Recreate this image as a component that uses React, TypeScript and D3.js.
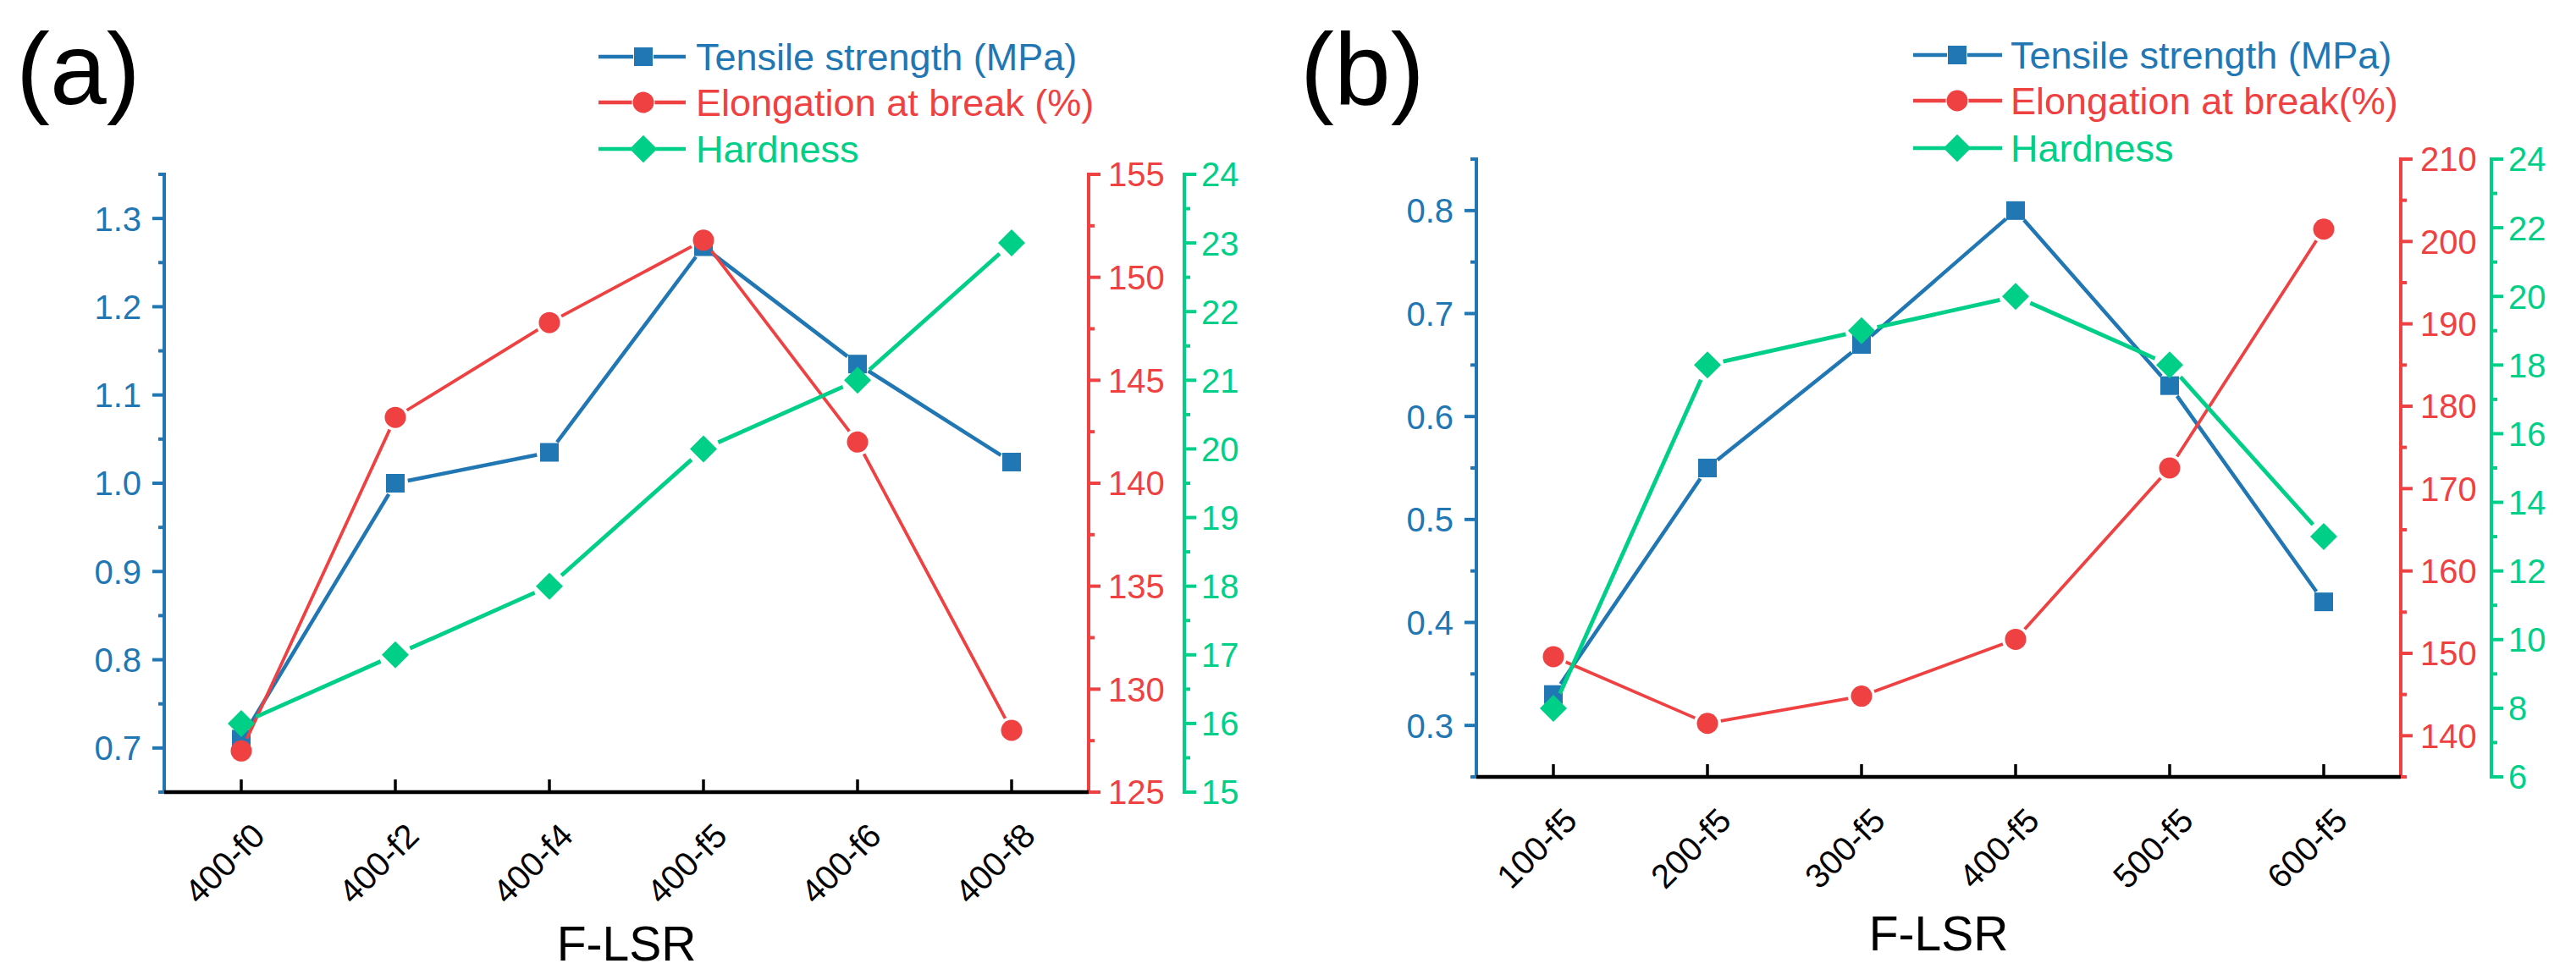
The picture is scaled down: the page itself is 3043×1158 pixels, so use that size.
import React from "react";
import * as d3 from "d3";

// ---------- data ----------
const categoriesA = ["400-f0", "400-f2", "400-f4", "400-f5", "400-f6", "400-f8"];
const tensileA = [0.71, 1.0, 1.035, 1.268, 1.135, 1.024];
const elongationA = [127.0, 143.2, 147.8, 151.8, 142.0, 128.0];
const hardnessA = [16, 17, 18, 20, 21, 23];

const categoriesB = ["100-f5", "200-f5", "300-f5", "400-f5", "500-f5", "600-f5"];
const tensileB = [0.33, 0.55, 0.67, 0.8, 0.63, 0.42];
const elongationB = [149.6, 141.5, 144.8, 151.7, 172.5, 201.5];
const hardnessB = [8, 18, 19, 20, 18, 13];

// axis domains and ticks
const leftDomainA = [0.65, 1.35];
const leftTicksA = [0.7, 0.8, 0.9, 1.0, 1.1, 1.2, 1.3];
const leftMinorA = [0.65, 0.75, 0.85, 0.95, 1.05, 1.15, 1.25, 1.35];
const redDomainA = [125, 155];
const redTicksA = [125, 130, 135, 140, 145, 150, 155];
const redMinorA = [127.5, 132.5, 137.5, 142.5, 147.5, 152.5];
const greenDomainA = [15, 24];
const greenTicksA = [15, 16, 17, 18, 19, 20, 21, 22, 23, 24];
const greenMinorA = [15.5, 16.5, 17.5, 18.5, 19.5, 20.5, 21.5, 22.5, 23.5];

const leftDomainB = [0.25, 0.85];
const leftTicksB = [0.3, 0.4, 0.5, 0.6, 0.7, 0.8];
const leftMinorB = [0.25, 0.35, 0.45, 0.55, 0.65, 0.75, 0.85];
const redDomainB = [135, 210];
const redTicksB = [140, 150, 160, 170, 180, 190, 200, 210];
const redMinorB = [135, 145, 155, 165, 175, 185, 195, 205];
const greenDomainB = [6, 24];
const greenTicksB = [6, 8, 10, 12, 14, 16, 18, 20, 22, 24];
const greenMinorB = [7, 9, 11, 13, 15, 17, 19, 21, 23];

const legendA = ["Tensile strength (MPa)", "Elongation at break (%)", "Hardness"];
const legendB = ["Tensile strength (MPa)", "Elongation at break(%)", "Hardness"];

// ---------- style ----------
const BLUE = "#2177B4";
const RED = "#EF4142";
const GREEN = "#00CF88";
const FONT = "'Liberation Sans', Arial, Helvetica, sans-serif";
const TICK_FS = 40;

type Marker = "square" | "circle" | "diamond";

function markerPath(kind: Marker, x: number, y: number): string {
  if (kind === "square") {
    const h = 11;
    return `M${x - h},${y - h}h${2 * h}v${2 * h}h${-2 * h}Z`;
  }
  if (kind === "diamond") {
    const h = 16;
    return `M${x},${y - h}L${x + h},${y}L${x},${y + h}L${x - h},${y}Z`;
  }
  const r = 12.5;
  return `M${x - r},${y}a${r},${r} 0 1,0 ${2 * r},0a${r},${r} 0 1,0 ${-2 * r},0Z`;
}

const markerGap: Record<Marker, number> = { square: 15, circle: 16, diamond: 19 };

function Series({
  pts,
  color,
  kind,
  width,
}: {
  pts: [number, number][];
  color: string;
  kind: Marker;
  width: number;
}) {
  const g = markerGap[kind];
  const segs: string[] = [];
  for (let i = 0; i < pts.length - 1; i++) {
    const [x1, y1] = pts[i];
    const [x2, y2] = pts[i + 1];
    const dx = x2 - x1;
    const dy = y2 - y1;
    const L = Math.hypot(dx, dy);
    if (L <= 2 * g) continue;
    const ux = dx / L;
    const uy = dy / L;
    segs.push(`M${x1 + ux * g},${y1 + uy * g}L${x2 - ux * g},${y2 - uy * g}`);
  }
  return (
    <g>
      <path d={segs.join("")} stroke={color} strokeWidth={width} fill="none" strokeLinecap="butt" />
      {pts.map(([x, y], i) => (
        <path key={i} d={markerPath(kind, x, y)} fill={color} />
      ))}
    </g>
  );
}

function YAxis({
  x,
  scale,
  ticks,
  minor,
  color,
  side,
  fmt,
  labelOff,
}: {
  x: number;
  scale: d3.ScaleLinear<number, number>;
  ticks: number[];
  minor: number[];
  color: string;
  side: "left" | "right";
  fmt: (v: number) => string;
  labelOff: number;
}) {
  const [r0, r1] = scale.range();
  const s = side === "left" ? -1 : 1;
  return (
    <g>
      <line x1={x} x2={x} y1={r0 + 2} y2={r1 - 2} stroke={color} strokeWidth={4} />
      {ticks.map((t) => (
        <line key={"M" + t} x1={x} x2={x + s * 14} y1={scale(t)} y2={scale(t)} stroke={color} strokeWidth={4} />
      ))}
      {minor.map((t) => (
        <line key={"m" + t} x1={x} x2={x + s * 7} y1={scale(t)} y2={scale(t)} stroke={color} strokeWidth={4} />
      ))}
      {ticks.map((t) => (
        <text
          key={"t" + t}
          x={x + s * labelOff}
          y={scale(t)}
          dy="0.36em"
          fill={color}
          fontSize={TICK_FS}
          fontFamily={FONT}
          textAnchor={side === "left" ? "end" : "start"}
        >
          {fmt(t)}
        </text>
      ))}
    </g>
  );
}

type PanelLayout = {
  left: number;
  right: number;
  top: number;
  bottom: number;
  greenX: number;
  tagX: number;
  legLine0: number;
  legLine1: number;
  legMarker: number;
  legText: number;
  legRows: number[];
  titleBase: number;
};

function Panel({
  tag,
  layout,
  categories,
  tensile,
  elongation,
  hardness,
  leftDomain,
  leftTicks,
  leftMinor,
  redDomain,
  redTicks,
  redMinor,
  greenDomain,
  greenTicks,
  greenMinor,
  legend,
}: any) {
  const L: PanelLayout = layout;
  const x = d3.scaleLinear().domain([0.5, categories.length + 0.5]).range([L.left, L.right]);
  const yL = d3.scaleLinear().domain(leftDomain).range([L.bottom, L.top]);
  const yR = d3.scaleLinear().domain(redDomain).range([L.bottom, L.top]);
  const yG = d3.scaleLinear().domain(greenDomain).range([L.bottom, L.top]);

  const ptsT: [number, number][] = tensile.map((v: number, i: number) => [x(i + 1), yL(v)]);
  const ptsE: [number, number][] = elongation.map((v: number, i: number) => [x(i + 1), yR(v)]);
  const ptsH: [number, number][] = hardness.map((v: number, i: number) => [x(i + 1), yG(v)]);

  const f1 = d3.format(".1f");
  const f0 = d3.format("d");
  const colors = [BLUE, RED, GREEN];
  const kinds: Marker[] = ["square", "circle", "diamond"];

  return (
    <g>
      <text x={L.tagX} y={123} fontSize={120} fontFamily={FONT} fill="#000">
        {tag}
      </text>

      {/* legend */}
      {legend.map((name: string, i: number) => {
        const yy = L.legRows[i];
        return (
          <g key={name}>
            <line x1={L.legLine0} x2={L.legLine1} y1={yy} y2={yy} stroke={colors[i]} strokeWidth={4.5} />
            <path d={markerPath(kinds[i], L.legMarker, yy)} fill={colors[i]} stroke="#fff" strokeWidth={i === 2 ? 0 : 2} />
            <path d={markerPath(kinds[i], L.legMarker, yy)} fill={colors[i]} />
            <text x={L.legText} y={yy} dy="0.36em" fontSize={45} fontFamily={FONT} fill={colors[i]}>
              {name}
            </text>
          </g>
        );
      })}

      {/* axes */}
      <YAxis x={L.left} scale={yL} ticks={leftTicks} minor={leftMinor} color={BLUE} side="left" fmt={f1} labelOff={27} />
      <YAxis x={L.right} scale={yR} ticks={redTicks} minor={redMinor} color={RED} side="right" fmt={f0} labelOff={23} />
      <YAxis x={L.greenX} scale={yG} ticks={greenTicks} minor={greenMinor} color={GREEN} side="right" fmt={f0} labelOff={20} />

      {/* series */}
      <Series pts={ptsT} color={BLUE} kind="square" width={4.5} />
      <Series pts={ptsE} color={RED} kind="circle" width={3.8} />
      <Series pts={ptsH} color={GREEN} kind="diamond" width={4.8} />

      {/* x axis */}
      <line x1={L.left} x2={L.right} y1={L.bottom} y2={L.bottom} stroke="#000" strokeWidth={4.5} />
      {categories.map((c: string, i: number) => {
        const cx = x(i + 1);
        return (
          <g key={c}>
            <line x1={cx} x2={cx} y1={L.bottom} y2={L.bottom - 15} stroke="#000" strokeWidth={3.5} />
            <text
              transform={`translate(${cx - 20},${L.bottom + 84}) rotate(-45)`}
              textAnchor="middle"
              dy="0.36em"
              fontSize={TICK_FS}
              fontFamily={FONT}
              fill="#000"
            >
              {c}
            </text>
          </g>
        );
      })}
      <text x={(L.left + L.right) / 2} y={L.titleBase} textAnchor="middle" fontSize={57} fontFamily={FONT} fill="#000">
        F-LSR
      </text>
    </g>
  );
}

const layoutA: PanelLayout = {
  left: 194,
  right: 1286,
  top: 206,
  bottom: 936,
  greenX: 1399,
  tagX: 19,
  legLine0: 707,
  legLine1: 810,
  legMarker: 760,
  legText: 822,
  legRows: [67, 121, 176],
  titleBase: 1135,
};

const layoutB: PanelLayout = {
  left: 1744,
  right: 2836,
  top: 188,
  bottom: 918,
  greenX: 2943,
  tagX: 1536,
  legLine0: 2260,
  legLine1: 2365,
  legMarker: 2312,
  legText: 2375,
  legRows: [65, 119, 175],
  titleBase: 1123,
};

export default function App() {
  return (
    <svg
      width={3043}
      height={1158}
      viewBox="0 0 3043 1158"
      style={{ position: "absolute", left: 0, top: 0, background: "#fff" }}
    >
      <rect x={0} y={0} width={3043} height={1158} fill="#fff" />
      <Panel
        tag="(a)"
        layout={layoutA}
        categories={categoriesA}
        tensile={tensileA}
        elongation={elongationA}
        hardness={hardnessA}
        leftDomain={leftDomainA}
        leftTicks={leftTicksA}
        leftMinor={leftMinorA}
        redDomain={redDomainA}
        redTicks={redTicksA}
        redMinor={redMinorA}
        greenDomain={greenDomainA}
        greenTicks={greenTicksA}
        greenMinor={greenMinorA}
        legend={legendA}
      />
      <Panel
        tag="(b)"
        layout={layoutB}
        categories={categoriesB}
        tensile={tensileB}
        elongation={elongationB}
        hardness={hardnessB}
        leftDomain={leftDomainB}
        leftTicks={leftTicksB}
        leftMinor={leftMinorB}
        redDomain={redDomainB}
        redTicks={redTicksB}
        redMinor={redMinorB}
        greenDomain={greenDomainB}
        greenTicks={greenTicksB}
        greenMinor={greenMinorB}
        legend={legendB}
      />
    </svg>
  );
}
